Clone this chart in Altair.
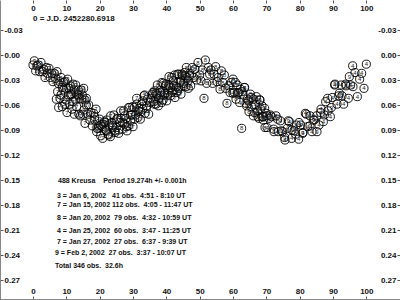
import altair as alt
import pandas as pd

# ---- data (phase in %, differential magnitude) ----
s3_phase = [0.0, 0.4, 0.8, 1.2, 1.6, 2.0, 2.4, 2.8, 3.2, 3.6, 4.0, 4.4, 4.8, 5.2, 5.6, 6.0,
            6.4, 6.8, 7.2, 7.6, 8.0, 8.4, 8.8, 9.2, 9.6, 10.0, 10.4, 10.8, 11.2, 11.6, 12.0,
            12.4, 12.8, 13.2, 13.6, 14.0, 14.4, 14.8, 15.2, 15.6, 16.0]
s3_mag = [0.012, 0.007, 0.019, 0.013, 0.012, 0.020, 0.009, 0.020, 0.017, 0.027,
          0.015, 0.022, 0.016, 0.027, 0.022, 0.032, 0.022, 0.028, 0.020, 0.034,
          0.032, 0.027, 0.039, 0.033, 0.032, 0.040, 0.029, 0.040, 0.037, 0.047,
          0.035, 0.042, 0.036, 0.047, 0.042, 0.052, 0.042, 0.048, 0.040, 0.054,
          0.052]

s7a_phase = [7.0, 7.4, 7.7, 8.1, 8.4, 8.8, 9.2, 9.5, 9.9, 10.2,
             10.6, 11.0, 11.3, 11.7, 12.0, 12.4, 12.8, 13.1, 13.5, 13.8,
             14.2, 14.6, 14.9, 15.3, 15.6, 16.0, 16.4, 16.7, 17.1, 17.4,
             17.8, 18.2, 18.5, 18.9, 19.2, 19.6, 20.0, 20.3, 20.7, 21.0,
             21.4, 21.8, 22.1, 22.5, 22.8, 23.2, 23.6, 23.9, 24.3, 24.6,
             25.0, 25.4, 25.7, 26.1, 26.4, 26.8, 27.2, 27.5, 27.9, 28.2,
             28.6, 29.0, 29.3, 29.7, 30.0, 30.4, 30.8, 31.1, 31.5, 31.8,
             32.2, 32.6, 32.9, 33.3, 33.6, 34.0, 34.4, 34.7, 35.1, 35.4,
             35.8, 36.2, 36.5, 36.9, 37.2, 37.6, 38.0, 38.3, 38.7, 39.0,
             39.4, 39.8, 40.1, 40.5, 40.8, 41.2, 41.6, 41.9, 42.3, 42.6,
             43.0, 43.4, 43.7, 44.1, 44.4, 44.8, 45.2, 45.5, 45.9, 46.2,
             46.6, 47.0]
s7a_mag = [0.053, 0.044, 0.063, 0.052, 0.048, 0.062, 0.042, 0.059, 0.054, 0.069,
           0.048, 0.059, 0.048, 0.065, 0.056, 0.071, 0.054, 0.062, 0.048, 0.071,
           0.073, 0.053, 0.071, 0.066, 0.082, 0.060, 0.071, 0.060, 0.078, 0.069,
           0.085, 0.070, 0.078, 0.065, 0.088, 0.085, 0.077, 0.097, 0.086, 0.083,
           0.080, 0.090, 0.078, 0.095, 0.084, 0.098, 0.081, 0.087, 0.072, 0.093,
           0.087, 0.076, 0.094, 0.081, 0.076, 0.089, 0.067, 0.083, 0.076, 0.091,
           0.085, 0.063, 0.079, 0.072, 0.086, 0.063, 0.072, 0.059, 0.075, 0.064,
           0.077, 0.059, 0.065, 0.049, 0.070, 0.064, 0.053, 0.071, 0.057, 0.052,
           0.047, 0.056, 0.043, 0.059, 0.048, 0.061, 0.043, 0.049, 0.033, 0.054,
           0.048, 0.037, 0.055, 0.042, 0.037, 0.049, 0.027, 0.043, 0.037, 0.051,
           0.045, 0.023, 0.040, 0.033, 0.047, 0.025, 0.034, 0.021, 0.038, 0.027,
           0.040, 0.022]

s8_phase = [36.0, 36.4, 36.9, 37.3, 37.7, 38.2, 38.6, 39.1, 39.5, 39.9,
            40.4, 40.8, 41.2, 41.7, 42.1, 42.5, 43.0, 43.4, 43.8, 44.3,
            44.7, 45.2, 45.6, 46.0, 46.5, 46.9, 47.3, 47.8, 48.2, 48.6,
            49.1, 49.5, 50.0, 50.4, 50.8, 51.3, 51.7, 52.1, 52.6, 53.0,
            53.4, 53.9, 54.3, 54.8, 55.2, 55.6, 56.1, 56.5, 56.9, 57.4,
            57.8, 58.2, 58.7, 59.1, 59.5, 60.0, 60.4, 60.9, 61.3, 61.7,
            62.2, 62.6, 63.0, 63.5, 63.9, 64.3, 64.8, 65.2, 65.6, 66.1,
            66.5, 67.0, 67.4, 67.8, 68.3, 68.7, 69.1, 69.6, 70.0]
s8_mag = [0.045, 0.059, 0.046, 0.036, 0.052, 0.045, 0.057, 0.034, 0.046, 0.035,
          0.048, 0.026, 0.039, 0.045, 0.031, 0.024, 0.038, 0.043, 0.023, 0.030,
          0.023, 0.037, 0.025, 0.015, 0.031, 0.025, 0.037, 0.015, 0.027, 0.017,
          0.030, 0.009, 0.024, 0.031, 0.018, 0.052, 0.006, 0.034, 0.015, 0.023,
          0.018, 0.034, 0.023, 0.014, 0.032, 0.027, 0.041, 0.019, 0.033, 0.024,
          0.040, 0.058, 0.037, 0.045, 0.033, 0.029, 0.045, 0.053, 0.036, 0.045,
          0.041, 0.088, 0.047, 0.039, 0.058, 0.053, 0.068, 0.047, 0.062, 0.053,
          0.069, 0.050, 0.067, 0.076, 0.065, 0.061, 0.078, 0.087, 0.070]

s4_phase = [60.0, 60.7, 61.4, 62.0, 62.7, 63.4, 64.1, 64.7, 65.4, 66.1,
            66.8, 67.5, 68.1, 68.8, 69.5, 70.2, 70.8, 71.5, 72.2, 72.9,
            73.6, 74.2, 74.9, 75.6, 76.3, 76.9, 77.6, 78.3, 79.0, 79.7,
            80.3, 81.0, 81.7, 82.4, 83.1, 83.7, 84.4, 85.1, 85.8, 86.4,
            87.1, 87.8, 88.5, 89.2, 89.8, 90.5, 91.2, 91.9, 92.5, 93.2,
            93.9, 94.6, 95.3, 95.9, 96.6, 97.3, 98.0, 98.6, 99.3, 100.0]
s4_mag = [0.046, 0.033, 0.046, 0.057, 0.044, 0.039, 0.061, 0.055, 0.051, 0.073,
          0.060, 0.074, 0.054, 0.074, 0.064, 0.087, 0.076, 0.074, 0.089, 0.073,
          0.092, 0.079, 0.092, 0.102, 0.088, 0.080, 0.100, 0.091, 0.084, 0.101,
          0.084, 0.093, 0.070, 0.086, 0.073, 0.092, 0.078, 0.073, 0.084, 0.065,
          0.080, 0.056, 0.067, 0.074, 0.051, 0.036, 0.059, 0.046, 0.036, 0.059,
          0.037, 0.052, 0.036, 0.013, 0.021, 0.050, 0.029, 0.022, 0.040, 0.011]

s7b_phase = [18.5, 19.1, 19.7, 20.3, 20.9, 21.5, 22.1, 22.7, 23.3, 23.9,
             24.5, 25.1, 25.7, 26.3, 26.9, 27.5, 28.1, 28.7, 29.3, 29.9,
             30.5, 31.1, 31.7, 32.3, 32.9, 33.5, 34.1]
s7b_mag = [0.074, 0.092, 0.088, 0.084, 0.100, 0.081, 0.091, 0.096, 0.073, 0.085,
           0.091, 0.077, 0.090, 0.067, 0.081, 0.073, 0.086, 0.063, 0.072, 0.062,
           0.077, 0.052, 0.067, 0.068, 0.055, 0.048, 0.061]

s9_phase = [68.0, 69.1, 70.2, 71.2, 72.3, 73.4, 74.5, 75.5, 76.6, 77.7,
            78.8, 79.8, 80.9, 82.0, 83.1, 84.1, 85.2, 86.3, 87.4, 88.4,
            89.5, 90.6, 91.7, 92.7, 93.8, 94.9, 96.0]
s9_mag = [0.054, 0.074, 0.073, 0.072, 0.092, 0.077, 0.091, 0.099, 0.079, 0.090,
          0.095, 0.081, 0.094, 0.071, 0.085, 0.078, 0.092, 0.069, 0.072, 0.052,
          0.063, 0.035, 0.049, 0.049, 0.035, 0.026, 0.038]

session_labels = ["3", "7", "8", "4", "7", "9"]
session_data = [(s3_phase, s3_mag), (s7a_phase, s7a_mag), (s8_phase, s8_mag),
                (s4_phase, s4_mag), (s7b_phase, s7b_mag), (s9_phase, s9_mag)]

x_ticks = [0, 10, 20, 30, 40, 50, 60, 70, 80, 90, 100]
y_ticks = [-0.03, 0.0, 0.03, 0.06, 0.09, 0.12, 0.15, 0.18, 0.21, 0.24, 0.27]

header_text = "0 = J.D. 2452280.6918"
note_lines = [
    "488 Kreusa\u00a0\u00a0\u00a0 Period 19.274h +/- 0.001h",
    "3 = Jan 6, 2002\u00a0\u00a0 41 obs.\u00a0 4:51 - 8:10 UT",
    "7 = Jan 15, 2002 112 obs.\u00a0 4:05 - 11:47 UT",
    "8 = Jan 20, 2002\u00a0 79 obs.\u00a0 4:32 - 10:59 UT",
    "4 = Jan 25, 2002\u00a0 60 obs.\u00a0 3:47 - 11:25 UT",
    "7 = Jan 27, 2002\u00a0 27 obs.\u00a0 6:37 - 9:39 UT",
    "9 = Feb 2, 2002\u00a0 27 obs.\u00a0 3:37 - 10:07 UT",
    "Total 346 obs.\u00a0 32.6h",
]

rows = []
for lab, (ph, mg) in zip(session_labels, session_data):
    for p, m in zip(ph, mg):
        rows.append({"phase": p, "mag": m, "sess": lab})
df = pd.DataFrame(rows)

FONT = "Liberation Sans"
xscale = alt.Scale(domain=[-9.9, 110.1], nice=False, zero=False)
yscale = alt.Scale(domain=[-0.066, 0.294], reverse=True, nice=False, zero=False)
ylab = "datum.value < 0 ? '-' + format(-datum.value, '.2f') : format(datum.value, '.2f')"

common = dict(labelFont=FONT, labelFontSize=8, labelFontWeight="bold", labelColor="#111",
              tickColor="#555", tickSize=3, grid=False, title=None, labelPadding=1,
              labelFlush=False, labelOverlap=False)

pts = alt.Chart(df).mark_point(shape="circle", filled=False, size=66, stroke="#000",
                               strokeWidth=0.9, opacity=1).encode(
    x=alt.X("phase:Q", scale=xscale,
            axis=alt.Axis(orient="bottom", offset=-300, values=x_ticks, domain=False, **common)),
    y=alt.Y("mag:Q", scale=yscale,
            axis=alt.Axis(orient="right", offset=-400, values=y_ticks, domain=True,
                          domainColor="#888", labelExpr=ylab, **common)),
)

digits = alt.Chart(df).mark_text(font=FONT, fontSize=6, color="#222", baseline="middle",
                                 align="center").encode(
    x=alt.X("phase:Q", scale=xscale,
            axis=alt.Axis(orient="top", offset=-299, values=x_ticks, domain=True,
                          domainColor="#888", **common)),
    y=alt.Y("mag:Q", scale=yscale,
            axis=alt.Axis(orient="left", offset=-400, values=y_ticks, domain=False,
                          labelExpr=ylab, **common)),
    text="sess:N",
)

one = pd.DataFrame({"k": [0]})
texts = [alt.Chart(one).mark_text(font=FONT, fontSize=8, fontWeight="bold", align="left",
                                  baseline="middle", color="#111").encode(
    x=alt.value(33), y=alt.value(19), text=alt.value(header_text))]
note_x = [58, 57, 57, 57, 57, 57, 55, 55]
note_y = [181, 196, 205, 218, 231, 242, 253, 266]
for t, xx, yy in zip(note_lines, note_x, note_y):
    texts.append(alt.Chart(one).mark_text(font=FONT, fontSize=7, fontWeight="bold",
                                          align="left", baseline="middle", color="#111").encode(
        x=alt.value(xx), y=alt.value(yy), text=alt.value(t)))

chart = alt.layer(pts, digits, *texts).resolve_axis(
    x="independent", y="independent"
).properties(
    width=400, height=300, autosize=alt.AutoSizeParams(type="none"), padding=0,
    background="white"
).configure_view(stroke=None)

chart.save("out.html", embed_options={"renderer": "svg", "actions": False})
